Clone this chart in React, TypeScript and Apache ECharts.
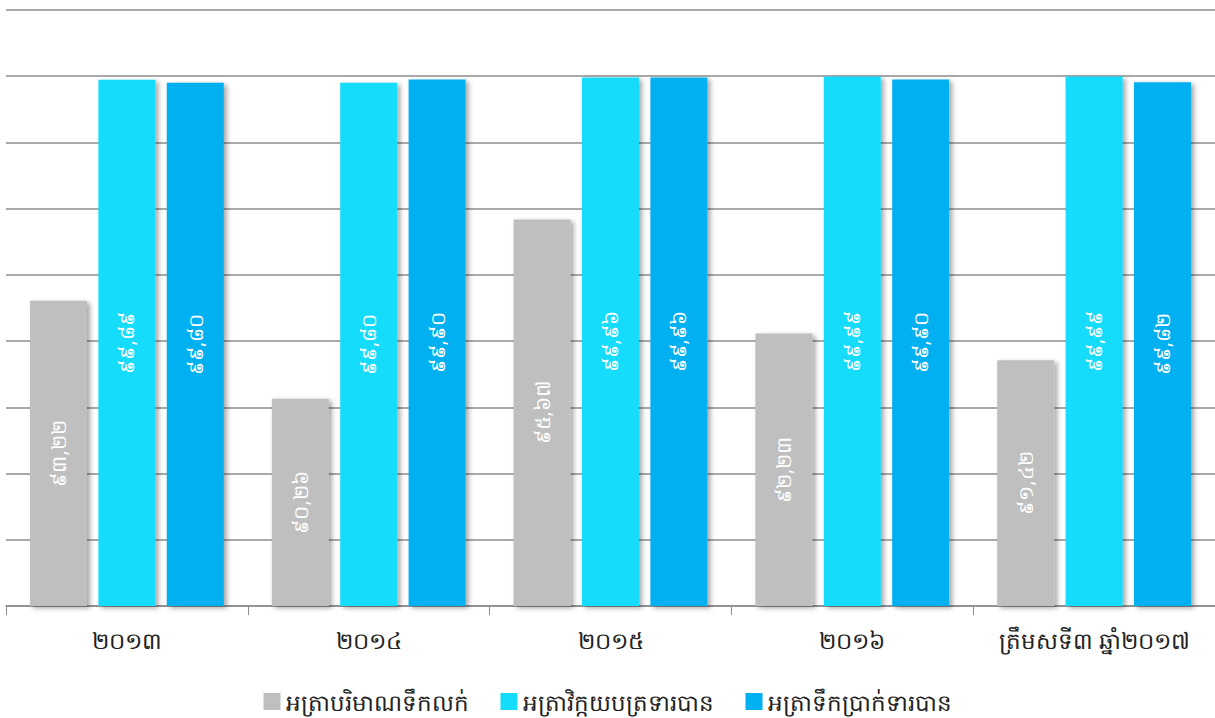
import React, { useEffect, useRef } from "react";
import * as echarts from "echarts";

const categories = ["២០១៣", "២០១៤", "២០១៥", "២០១៦", "ត្រឹមសទី៣ ឆ្នាំ២០១៧"];
const seriesNames = ["អត្រាបរិមាណទឹកលក់", "អត្រាវិក្កយបត្រទារបាន", "អត្រាទឹកប្រាក់ទារបាន"];
const salesVolume = [93.22, 90.26, 95.67, 92.23, 91.42];
const billsCollected = [99.89, 99.8, 99.96, 99.99, 99.99];
const moneyCollected = [99.8, 99.9, 99.96, 99.9, 99.82];
const colors = ["#BFBFBF", "#16DCFC", "#00B0F0"];

const khmerDigits = ["០", "១", "២", "៣", "៤", "៥", "៦", "៧", "៨", "៩"];
const toKhmer = (v: number) =>
  v
    .toFixed(2)
    .replace(".", ",")
    .replace(/[0-9]/g, (d) => khmerDigits[Number(d)]);

const FONT = "'Noto Sans', 'DejaVu Sans', sans-serif";

export default function App() {
  const ref = useRef<HTMLDivElement>(null);
  useEffect(() => {
    if (!ref.current) return;
    const chart = echarts.init(ref.current, undefined, { renderer: "svg" });
    const data = [salesVolume, billsCollected, moneyCollected];
    chart.setOption({
      animation: false,
      grid: { left: 6, right: 0, top: 10, bottom: 112, containLabel: false },
      legend: {
        bottom: 0,
        left: "center",
        itemWidth: 17,
        itemHeight: 17,
        itemGap: 32,
        icon: "rect",
        textStyle: { fontSize: 23, color: "#222", fontFamily: FONT },
        data: seriesNames,
      },
      xAxis: {
        type: "category",
        data: categories,
        axisLine: { lineStyle: { color: "#8c8c8c", width: 1.5 } },
        axisTick: { show: true, length: 9, lineStyle: { color: "#8c8c8c" } },
        axisLabel: { fontSize: 23, color: "#222", margin: 22, interval: 0, fontFamily: FONT },
      },
      yAxis: {
        type: "value",
        min: 84,
        max: 102,
        interval: 2,
        axisLabel: { show: false },
        axisLine: { show: false },
        axisTick: { show: false },
        splitLine: { lineStyle: { color: "#8c8c8c", width: 1.5 } },
      },
      series: seriesNames.map((name, i) => ({
        name,
        type: "bar",
        data: data[i],
        barWidth: 57,
        barGap: "20%",
        itemStyle: {
          color: colors[i],
          shadowColor: "rgba(0,0,0,0.35)",
          shadowBlur: 5,
          shadowOffsetX: 3,
          shadowOffsetY: 2,
        },
        label: {
          show: true,
          position: "inside",
          rotate: 90,
          color: "#fff",
          fontSize: 20,
          fontFamily: FONT,
          formatter: (p: any) => toKhmer(p.value),
        },
      })),
    });
    return () => chart.dispose();
  }, []);
  return (
    <div
      ref={ref}
      style={{ position: "fixed", left: 0, top: 0, width: 1215, height: 718, background: "#fff" }}
    />
  );
}
